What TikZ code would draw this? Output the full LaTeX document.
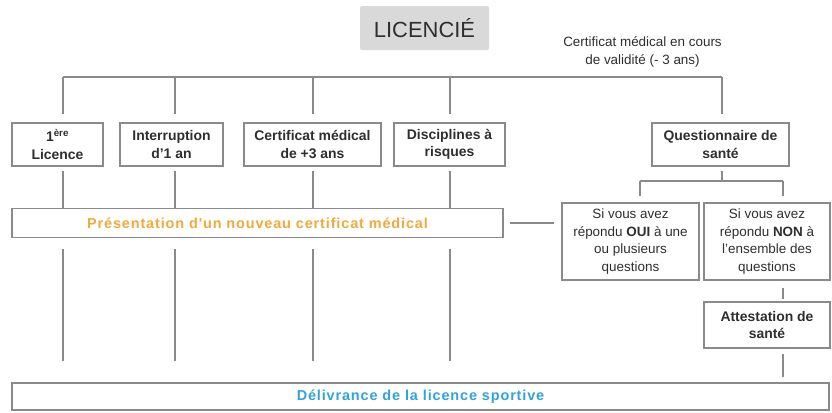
\documentclass[tikz,border=0pt]{standalone}
\usepackage{fontspec}
\setmainfont{Liberation Sans}
\newfontfamily\spacedfont[LetterSpace=6]{Liberation Sans}
\usepackage{xcolor}
\usetikzlibrary{positioning}

\definecolor{linegray}{HTML}{8A8A8A}
\definecolor{textdark}{HTML}{2E2E2E}
\definecolor{titlefill}{HTML}{D9D9D9}
\definecolor{certorange}{HTML}{F2A93B}
\definecolor{licblue}{HTML}{2FA4DC}

\begin{document}
\begin{tikzpicture}[x=1bp, y=-1bp,
    box/.style={draw=linegray, line width=1.2bp, inner sep=0pt, align=center,
        text=textdark, font=\fontsize{14}{17.5}\selectfont\bfseries},
    smallbox/.style={box, font=\fontsize{13.5}{17.5}\selectfont},
    widebox/.style={box, font=\fontsize{14.5}{17}\selectfont\spacedfont\bfseries},
    link/.style={draw=linegray, line width=1.6bp}]

\useasboundingbox (0,0) rectangle (832,412);

% Title
\node[fill=titlefill, rounded corners=2bp, minimum width=129bp, minimum height=44bp,
    text=textdark, font=\fontsize{22}{24}\selectfont] (lic) at (424.5,28) {LICENCIÉ};
\node[align=center, text=textdark, font=\fontsize{13.5}{18.5}\selectfont] (valid) at (642.5,52)
    {Certificat médical en cours\\de validité (- 3 ans)};

% First row of cases
\node[box, minimum width=91bp, minimum height=43bp] (first) at (57.5,144.5) {1\textsuperscript{ère}\\Licence};
\node[box, minimum width=103bp, minimum height=43bp] (break) at (171.5,144.5) {Interruption\\d'1 an};
\node[box, minimum width=137bp, minimum height=43bp] (old) at (312.5,144.5) {Certificat médical\\de +3 ans};
\node[box, minimum width=111bp, minimum height=43bp] (risk) at (449.5,144.5) {Disciplines à\\risques};
\node[box, minimum width=137bp, minimum height=43bp] (quest) at (720.5,144.5) {Questionnaire de\\santé};

% Answers
\node[smallbox, minimum width=137bp, minimum height=77bp] (yes) at (630.5,241.5)
    {Si vous avez\\répondu \textbf{OUI} à une\\ou plusieurs\\questions};
\node[smallbox, minimum width=126bp, minimum height=77bp] (no) at (767,241.5)
    {Si vous avez\\répondu \textbf{NON} à\\l'ensemble des\\questions};
\node[box, minimum width=126bp, minimum height=46bp] (attest) at (767,325) {Attestation de\\santé};

% Wide boxes
\node[widebox, minimum width=491bp, minimum height=29bp, text=certorange] (newcert) at (257.5,223)
    {Présentation d'un nouveau certificat médical};
\node[widebox, minimum width=817bp, minimum height=27bp, text=licblue] (deliv) at (420.5,396.5)
    {Délivrance de la licence sportive};

% Top bar and drops
\coordinate (barL) at (63,77);
\coordinate (barR) at (722,77);
\draw[link] (barL) -- (barR);
\foreach \b/\x in {first/63, break/175, old/313, risk/450} {
    \coordinate (d\b) at (\x,0);
    \draw[link, shorten >=8bp] (d\b |- barL) -- (d\b |- \b.north);
    \draw[link, shorten <=4bp] (d\b |- \b.south) -- (d\b |- newcert.north);
    \draw[link, shorten <=11bp, shorten >=21bp] (d\b |- newcert.south) -- (d\b |- deliv.north);
}
\coordinate (dquest) at (722,0);
\draw[link, shorten >=8bp] (dquest |- barR) -- (dquest |- quest.north);

% Questionnaire split
\coordinate (split) at (722,181);
\coordinate (dyes) at (640,0);
\coordinate (dno) at (783,0);
\draw[link, shorten <=4bp] (dquest |- quest.south) -- (split);
\draw[link] (dyes |- split) -- (dno |- split);
\draw[link, shorten >=6bp] (dyes |- split) -- (dyes |- yes.north);
\draw[link, shorten >=6bp] (dno |- split) -- (dno |- no.north);

% OUI back to new certificate
\draw[link, shorten <=6bp, shorten >=7bp] (newcert.east) -- (newcert.east -| yes.west);

% NON to attestation to licence
\draw[link, shorten <=7bp, shorten >=2bp] (dno |- no.south) -- (dno |- attest.north);
\draw[link, shorten <=5bp, shorten >=5bp] (dno |- attest.south) -- (dno |- deliv.north);
\end{tikzpicture}
\end{document}
